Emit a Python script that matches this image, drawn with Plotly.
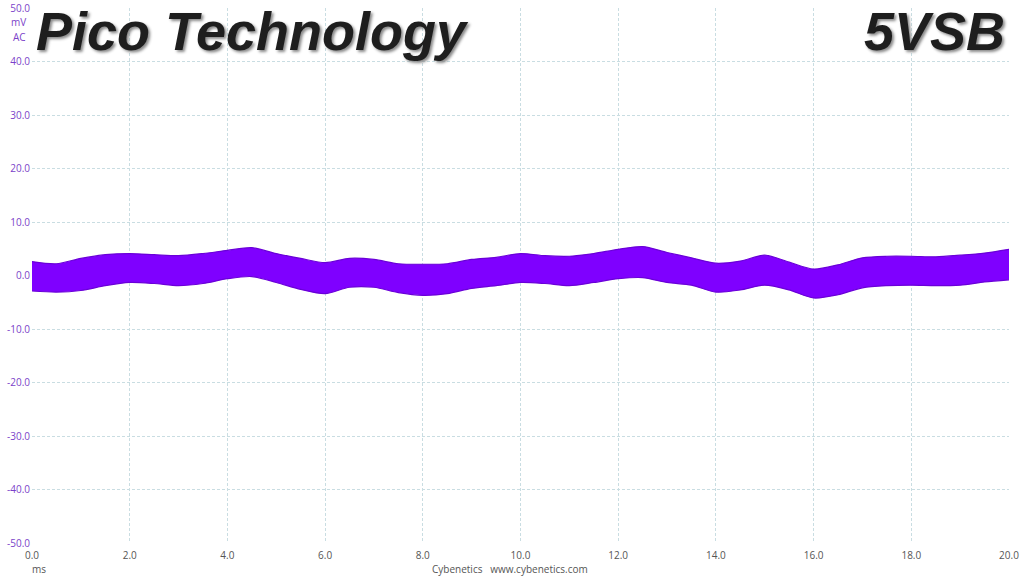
import plotly.graph_objects as go

# time axis (ms)
time_ms = [0.0, 0.5, 1.0, 1.5, 2.0, 2.5, 3.0, 3.5, 4.0, 4.5, 5.0, 5.5, 6.0,
           6.5, 7.0, 7.5, 8.0, 8.5, 9.0, 9.5, 10.0, 10.5, 11.0, 11.5, 12.0,
           12.5, 13.0, 13.5, 14.0, 14.5, 15.0, 15.5, 16.0, 16.5, 17.0, 17.5,
           18.0, 18.5, 19.0, 19.5, 20.0]
# upper and lower envelope of the ripple band (mV)
upper_mv = [2.6, 2.2, 3.2, 3.9, 4.1, 3.9, 3.7, 4.1, 4.7, 5.2, 4.1, 3.2, 2.4,
            3.2, 3.0, 2.2, 2.1, 2.2, 3.0, 3.4, 4.1, 3.7, 3.6, 4.1, 4.9,
            5.4, 4.3, 3.3, 2.3, 2.7, 3.8, 2.5, 1.2, 2.0, 3.3, 3.6,
            3.6, 3.5, 3.8, 4.2, 4.9]
lower_mv = [-2.9, -3.1, -2.8, -1.9, -1.3, -1.5, -1.9, -1.5, -0.6, -0.2, -1.3, -2.6, -3.4,
            -2.2, -2.2, -3.2, -3.7, -3.4, -2.4, -1.9, -1.3, -1.5, -1.9, -1.3, -0.6,
            -0.4, -1.3, -1.8, -3.1, -2.7, -1.8, -2.7, -4.2, -3.6, -2.3, -1.9,
            -1.8, -1.9, -1.8, -1.2, -0.8]

x_ticks = [0, 2, 4, 6, 8, 10, 12, 14, 16, 18, 20]
x_labels = ["%.1f" % v for v in x_ticks]
y_ticks = [-50, -40, -30, -20, -10, 0, 10, 20, 30, 40, 50]
y_labels = ["%.1f" % v for v in y_ticks]

wave_color = "#7f00ff"
grid_color = "#c9dde2"
ylab_color = "#7b3fc9"

fig = go.Figure()
fig.add_trace(go.Scatter(x=time_ms, y=lower_mv, mode="lines",
                         line=dict(color="#6a00d8", width=1.2, shape="spline", smoothing=0.8),
                         hoverinfo="skip", showlegend=False))
fig.add_trace(go.Scatter(x=time_ms, y=upper_mv, mode="lines",
                         line=dict(color="#6a00d8", width=1.2, shape="spline", smoothing=0.8),
                         fill="tonexty", fillcolor=wave_color,
                         hoverinfo="skip", showlegend=False))

fig.update_layout(
    width=1024, height=576,
    margin=dict(l=32, r=15, t=8, b=33),
    paper_bgcolor="white", plot_bgcolor="white",
    font=dict(family="Open Sans", size=10, color="#555555"),
    xaxis=dict(range=[0, 20], tickmode="array", tickvals=x_ticks, ticktext=x_labels,
               showgrid=True, gridcolor=grid_color, griddash="3px,2px", gridwidth=1,
               zeroline=False, showline=False, ticks="", automargin=False,
               ticklabelstandoff=5,
               tickfont=dict(color="#555555", size=10)),
    yaxis=dict(range=[-50, 50], tickmode="array", tickvals=y_ticks, ticktext=y_labels,
               showgrid=True, gridcolor=grid_color, griddash="3px,2px", gridwidth=1,
               zeroline=False, showline=False, ticks="", ticklabelstandoff=1,
               automargin=False,
               tickfont=dict(color=ylab_color, size=10)),
)

title_font = dict(family="Liberation Sans", size=54, color="#1e1e1e",
                  weight="bold", style="italic", shadow="2px 2px 3px #8a8a8a")
fig.add_annotation(text="Pico Technology", xref="paper", yref="paper",
                   x=0.002, y=1.016, xanchor="left", yanchor="top",
                   showarrow=False, font=title_font)
fig.add_annotation(text="5VSB", xref="paper", yref="paper",
                   x=0.998, y=1.016, xanchor="right", yanchor="top",
                   showarrow=False, font=title_font)

fig.add_annotation(text="mV", xref="paper", yref="paper", x=-0.004, y=0.974,
                   xanchor="right", yanchor="middle", showarrow=False,
                   font=dict(color=ylab_color, size=10, family="Open Sans"))
fig.add_annotation(text="AC", xref="paper", yref="paper", x=-0.004, y=0.946,
                   xanchor="right", yanchor="middle", showarrow=False,
                   font=dict(color=ylab_color, size=10, family="Open Sans"))
fig.add_annotation(text="ms", xref="paper", yref="paper", x=0.007, y=-0.0486,
                   xanchor="center", yanchor="middle", showarrow=False,
                   font=dict(color="#555555", size=10, family="Open Sans"))
fig.add_annotation(text="Cybenetics&nbsp;&nbsp;&nbsp;www.cybenetics.com",
                   xref="paper", yref="paper", x=0.489, y=-0.0486,
                   xanchor="center", yanchor="middle", showarrow=False,
                   font=dict(color="#555555", size=10, family="Open Sans"))

fig.write_html("out.html", config={"displayModeBar": False},
               post_script="document.body.style.margin='0';document.body.style.overflow='hidden';")
